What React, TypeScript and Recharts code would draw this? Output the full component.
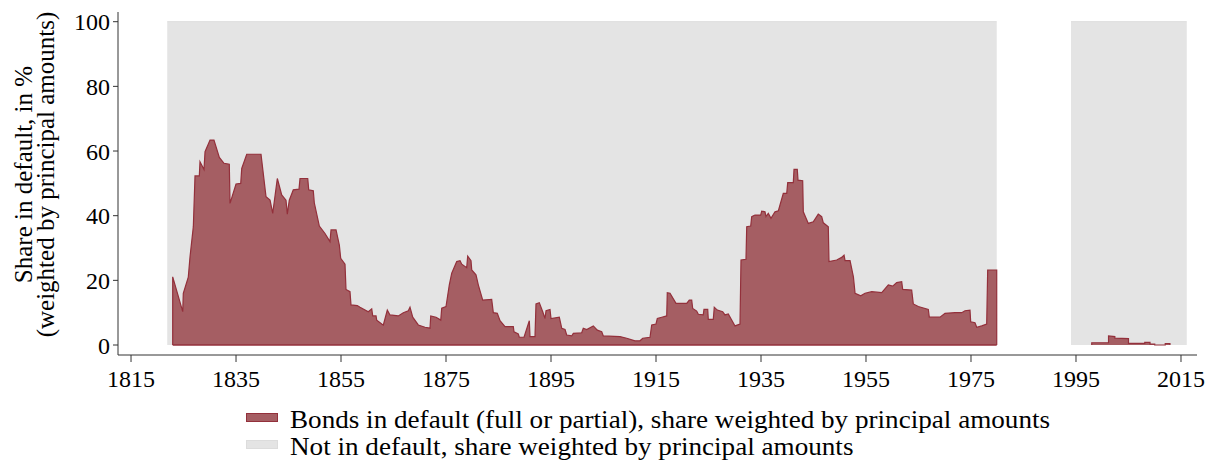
import React from "react";
import { ComposedChart, Area, Line, XAxis, YAxis, Legend } from "recharts";

// Bonds in default, share weighted by principal amounts (%)
const defaultYears: (number)[] = [
  1822.94, 1822.94, 1824.85, 1824.96, 1825.91, 1826.24, 1826.87, 1827.19, 1828.01, 1828.14,
  1828.9, 1829.1, 1830.05, 1830.8, 1831.82, 1832.71, 1833.72, 1833.86, 1835.0, 1835.9,
  1836.09, 1837.04, 1839.76, 1840.71, 1841.48, 1841.99, 1842.87, 1843.7, 1844.52, 1844.77,
  1845.15, 1845.91, 1847.0, 1847.19, 1848.66, 1848.85, 1849.72, 1849.91, 1850.87, 1851.95,
  1852.9, 1853.1, 1854.05, 1854.68, 1854.94, 1855.76, 1855.95, 1856.71, 1856.9, 1858.1,
  1858.62, 1860.2, 1860.85, 1861.04, 1861.67, 1861.8, 1862.75, 1863.06, 1863.82, 1864.33,
  1865.91, 1866.87, 1867.82, 1868.14, 1868.66, 1869.72, 1871.0, 1871.95, 1872.09, 1873.1,
  1874.0, 1874.18, 1875.0, 1875.63, 1876.09, 1877.04, 1877.67, 1878.0, 1878.94, 1879.13,
  1879.76, 1879.9, 1880.71, 1881.15, 1881.99, 1883.7, 1884.01, 1884.77, 1885.29, 1886.24,
  1887.82, 1887.95, 1888.77, 1888.96, 1889.86, 1890.87, 1891.0, 1891.95, 1892.14, 1892.77,
  1893.42, 1893.86, 1894.05, 1894.81, 1895.0, 1896.58, 1897.04, 1897.67, 1897.99, 1898.94,
  1899.25, 1900.85, 1901.15, 1901.8, 1903.06, 1903.82, 1904.66, 1904.96, 1908.14, 1909.42,
  1911.0, 1911.95, 1912.47, 1913.86, 1914.18, 1915.0, 1915.25, 1916.09, 1917.04, 1917.15,
  1917.67, 1918.81, 1920.85, 1921.34, 1921.8, 1921.99, 1922.75, 1923.06, 1924.0, 1924.14,
  1924.85, 1924.96, 1925.91, 1926.1, 1926.68, 1927.7, 1928.14, 1928.77, 1930.05, 1931.0,
  1931.19, 1932.14, 1932.28, 1933.04, 1933.23, 1933.86, 1934.94, 1935.13, 1935.76, 1935.95,
  1936.39, 1936.9, 1937.67, 1938.3, 1938.62, 1939.25, 1939.9, 1940.09, 1941.15, 1941.29,
  1941.91, 1942.05, 1942.94, 1943.06, 1944.01, 1944.96, 1945.91, 1946.56, 1946.87, 1947.82,
  1947.95, 1949.42, 1950.37, 1950.82, 1951.01, 1951.96, 1952.6, 1952.92, 1954.0, 1954.82,
  1956.09, 1958.0, 1959.25, 1960.09, 1960.85, 1961.8, 1961.99, 1963.7, 1964.01, 1964.96,
  1966.87, 1967.06, 1969.1, 1970.05, 1971.95, 1973.23, 1973.86, 1974.81, 1974.94, 1975.76,
  1976.09, 1977.04, 1977.99, 1978.18, 1979.9, 1979.9,
  1987,
  1998.0, 1998.0, 2001.2, 2001.2, 2002.4, 2002.4, 2005.0, 2005.0, 2008.1, 2008.1,
  2009.1, 2009.1, 2010.0, 2010.0, 2012.0, 2012.0, 2012.9, 2012.9,
];
const defaultShares: (number | null)[] = [
  0, 21.1, 10.3, 16, 21, 27.3, 36.6, 52.3, 52.3, 56.7,
  54.3, 59.8, 63.4, 63.4, 58, 56.2, 55.9, 43.8, 49.8, 50,
  54.6, 59, 59, 45.9, 44.8, 40.7, 51.5, 46.4, 44.8, 40.5,
  44.8, 48, 48.2, 51.5, 51.5, 48, 47.7, 44, 36.8, 34.5,
  32, 35.6, 35.6, 30.9, 26.8, 25, 17.2, 16.5, 12.4, 12.2,
  11.7, 10.3, 11.2, 9, 9, 7.7, 6.5, 6.2, 10.8, 9.3,
  9, 10, 10.6, 11.7, 8.6, 6.2, 5.5, 5.2, 9, 8.6,
  7.7, 11.4, 11.9, 18.6, 22.2, 25.8, 26.1, 25, 23.9, 27.5,
  26.1, 23.2, 21.7, 18.6, 13.9, 14.1, 10, 9.8, 7.5, 5.7,
  5.7, 4.1, 3.4, 2.4, 2.4, 7.5, 2.6, 2.6, 12.7, 13.1,
  10.3, 8.2, 10.6, 11, 8.2, 8.6, 5.2, 4.8, 3.1, 2.8,
  3.6, 3.8, 5.2, 4.8, 5.9, 4.6, 4.1, 2.8, 2.6, 2.1,
  1.3, 1.3, 2.1, 2.4, 6.2, 6.5, 8.2, 8.6, 9, 16.2,
  16, 12.9, 12.9, 13.9, 13.9, 11.3, 10.5, 9.5, 9.3, 11,
  11, 7.9, 7.9, 11.7, 10.8, 10.3, 9.3, 9.6, 5.9, 6.5,
  26.3, 26.5, 36.6, 36.8, 39.7, 40.2, 40.2, 41.4, 41.2, 39.7,
  40.7, 39.2, 41.2, 41.5, 43.3, 46.9, 46.9, 50.2, 50.2, 54.3,
  54.3, 51, 50.8, 41.2, 37.6, 38.1, 40.5, 39.7, 37.8, 36.6,
  25.8, 26.3, 27.1, 27.8, 26.1, 26.1, 21.1, 16, 15.2, 16,
  16.5, 16.2, 18.6, 18.2, 19.3, 19.6, 17.2, 17, 12.7, 11.9,
  11, 8.6, 8.6, 9.8, 10, 10, 10.6, 10.8, 7.2, 6.9,
  5.5, 5.9, 6.5, 23.2, 23.2, 0,
  null,
  0, 0.7, 0.7, 2.8, 2.6, 2.1, 2.0, 0.5, 0.5, 0.8,
  0.8, 0.3, 0.3, 0, 0, 0.4, 0.4, 0,
];

// Not in default (coverage periods at 100%)
const coverYears: number[] = [1821.9, 1979.9, 1987, 1994.05, 2016.1];
const coverShares: (number | null)[] = [100, 100, null, 100, 100];

const xTicks = [1815, 1835, 1855, 1875, 1895, 1915, 1935, 1955, 1975, 1995, 2015];
const yTicks = [0, 20, 40, 60, 80, 100];

const seriesNames = [
  "Bonds in default (full or partial), share weighted by principal amounts",
  "Not in default, share weighted by principal amounts",
];
const yLabelLines = ["Share in default, in %", "(weighted by principal amounts)"];

const RED_FILL = "#a55e63";
const RED_LINE = "#93303b";
const GRAY_FILL = "#e4e4e4";
const GRAY_LINE = "#dcdcdc";
const FONT = "'Liberation Serif', 'Times New Roman', serif";

const defaultData = defaultYears.map((year, i) => ({ year, share: defaultShares[i] }));
const coverData = coverYears.map((year, i) => ({ year, share: coverShares[i] }));
const baseData = [
  { year: defaultYears[0], share: 0 },
  { year: defaultYears[defaultYears.indexOf(1987) - 1], share: 0 },
];

const YLabel = (props: any) => {
  const vb = props.viewBox || {};
  const cy = (vb.y ?? 12) + (vb.height ?? 343) / 2 - 9;
  return (
    <g>
      <text transform={`translate(32, ${cy}) rotate(-90)`} textAnchor="middle" fontSize={25} fontFamily={FONT} fill="#000">
        {yLabelLines[0]}
      </text>
      <text transform={`translate(54, ${cy}) rotate(-90)`} textAnchor="middle" fontSize={25} fontFamily={FONT} fill="#000">
        {yLabelLines[1]}
      </text>
    </g>
  );
};

const legendColors = [
  { fill: RED_FILL, stroke: RED_LINE },
  { fill: GRAY_FILL, stroke: GRAY_LINE },
];

const LegendContent = () => (
  <div style={{ fontFamily: FONT, fontSize: 25, lineHeight: "27px", color: "#000" }}>
    {seriesNames.map((name, i) => (
      <div key={name} style={{ display: "flex", alignItems: "center", whiteSpace: "nowrap" }}>
        <span
          style={{
            display: "inline-block",
            width: 30,
            height: 7,
            background: legendColors[i].fill,
            border: `1px solid ${legendColors[i].stroke}`,
            marginRight: 12,
            position: "relative",
            top: -2,
          }}
        />
        <span style={{ display: "inline-block", transform: "scaleX(1.085)", transformOrigin: "left center" }}>{name}</span>
      </div>
    ))}
  </div>
);

export default function App() {
  return (
    <div style={{ position: "absolute", left: 0, top: 0, width: 1215, height: 464, background: "#fff" }}>
      <ComposedChart width={1215} height={464} margin={{ top: 12, right: 18, bottom: 69, left: 0 }}>
        <XAxis
          type="number"
          dataKey="year"
          domain={[1812.52, 2018.05]}
          ticks={xTicks}
          allowDataOverflow
          interval={0}
          height={40}
          tickSize={7}
          tickMargin={8}
          stroke="#333"
          tick={{ fontSize: 24, fontFamily: FONT, fill: "#000" }}
        />
        <YAxis
          type="number"
          domain={[-3.09, 103.0]}
          ticks={yTicks}
          allowDataOverflow
          interval={0}
          width={118}
          tickSize={5}
          tickMargin={3}
          stroke="#333"
          tick={{ fontSize: 24, fontFamily: FONT, fill: "#000" }}
          label={{ content: (p: any) => <YLabel {...p} /> }}
        />
        <Area
          data={coverData}
          dataKey="share"
          type="linear"
          fill={GRAY_FILL}
          fillOpacity={1}
          stroke={GRAY_LINE}
          strokeWidth={1}
          isAnimationActive={false}
          connectNulls={false}
          name={seriesNames[1]}
        />
        <Area
          data={defaultData}
          dataKey="share"
          type="linear"
          fill={RED_FILL}
          fillOpacity={1}
          stroke={RED_LINE}
          strokeWidth={1.2}
          isAnimationActive={false}
          connectNulls={false}
          name={seriesNames[0]}
        />
        <Line
          data={baseData}
          dataKey="share"
          type="linear"
          stroke={RED_LINE}
          strokeWidth={1.5}
          dot={false}
          isAnimationActive={false}
          legendType="none"
        />
        <Legend
          layout="vertical"
          align="center"
          verticalAlign="middle"
          wrapperStyle={{ left: 246, top: 406, width: 950 }}
          content={() => <LegendContent />}
        />
      </ComposedChart>
    </div>
  );
}
